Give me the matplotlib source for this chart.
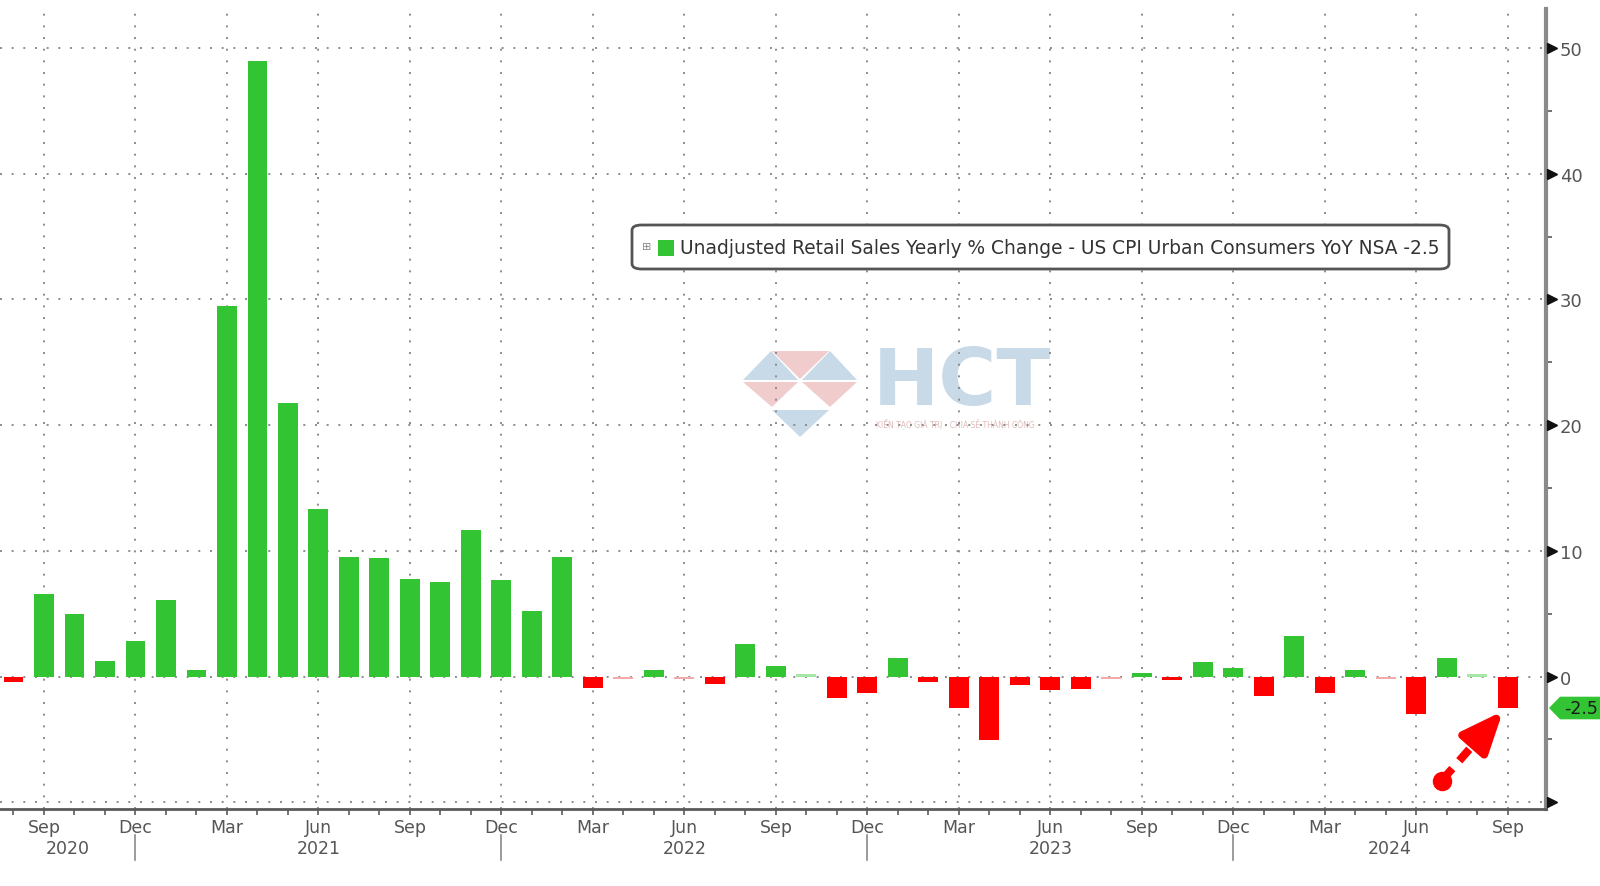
import matplotlib
matplotlib.use("Agg")
import matplotlib.pyplot as plt
import pandas as pd
from matplotlib.patches import FancyBboxPatch, Rectangle, Polygon
from matplotlib.transforms import blended_transform_factory

# ---------------- data ----------------
months = pd.period_range("2020-08", "2024-09", freq="M")
values = [-0.4, 6.6, 4.95, 1.2, 2.8,
          6.1, 0.5, 29.5, 49.0, 21.75, 13.3, 9.5, 9.4, 7.8, 7.5, 11.7, 7.7,
          5.2, 9.5, -0.9, -0.2, 0.5, -0.2, -0.6, 2.6, 0.85, 0.2, -1.7, -1.3,
          1.45, -0.45, -2.5, -5.05, -0.7, -1.05, -0.95, -0.2, 0.3, -0.3, 1.15, 0.65,
          -1.55, 3.2, -1.3, 0.5, -0.2, -3.0, 1.45, 0.2, -2.5]
quarter_months = [3, 6, 9, 12]
year_labels = ["2020", "2021", "2022", "2023", "2024"]
y_ticks = [0, 10, 20, 30, 40, 50]
legend_label = "Unadjusted Retail Sales Yearly % Change - US CPI Urban Consumers YoY NSA -2.5"
last_label = "-2.5"
last_value = -2.5

# ---------------- style ----------------
GREEN = "#33c433"
RED = "#ff0000"
LGREEN = "#a6e6a6"
LRED = "#f4a9a9"
GRID = "#8c8c8c"
TXT = "#555555"

plt.rcParams["font.family"] = ["DejaVu Sans"]

W, H = 1600, 887
fig = plt.figure(figsize=(W / 100, H / 100), dpi=100)
fig.patch.set_facecolor("white")

def fx(x):
    return x / W

def fy(y):
    return 1 - y / H

XMIN, XMAX = -0.44, 50.25
YMIN, YMAX = -10.55, 53.1
ax_bottom_px, ax_top_px = 810.2, 10.1
ax = fig.add_axes([0, fy(ax_bottom_px), 1546 / W, (ax_bottom_px - ax_top_px) / H])
ax.set_xlim(XMIN, XMAX)
ax.set_ylim(YMIN, YMAX)
ax.set_facecolor("none")

x = list(range(len(values)))
colors = []
for v in values:
    if v >= 0:
        colors.append(LGREEN if abs(v) < 0.25 else GREEN)
    else:
        colors.append(LRED if abs(v) < 0.25 else RED)
ax.bar(x, values, width=0.65, color=colors, zorder=3)

# grid
q_idx = [i for i, m in enumerate(months) if m.month in quarter_months]
q_lab = [months[i].strftime("%b") for i in q_idx]
for i in q_idx:
    ax.axvline(i, color=GRID, lw=1.4, ls=(0, (1, 5)), zorder=1)
for yv in [-10] + y_ticks:
    ax.axhline(yv, color=GRID, lw=1.4, ls=(0, (1, 5)), zorder=1)

# spines
for s in ["top", "left"]:
    ax.spines[s].set_visible(False)
ax.spines["right"].set_color("#8a8a8a")
ax.spines["right"].set_linewidth(3)
ax.spines["bottom"].set_color("#5a5a5a")
ax.spines["bottom"].set_linewidth(2)

# x ticks
ax.set_xticks(q_idx)
ax.set_xticklabels(q_lab)
ax.set_xticks(x, minor=True)
ax.tick_params(axis="x", which="both", direction="out", length=4.5, width=1.2,
               color="#5a5a5a", labelsize=12.5, labelcolor=TXT, pad=1.5)

# year labels and separators
dec_idx = [i for i, m in enumerate(months) if m.month == 12]
bounds = [XMIN] + dec_idx + [XMAX]
trans_xb = blended_transform_factory(ax.transData, fig.transFigure)
for k, lab in enumerate(year_labels):
    cx = (bounds[k] + bounds[k + 1]) / 2
    ax.text(cx, fy(849), lab, transform=trans_xb, ha="center", va="center",
            fontsize=12.5, color=TXT)
for d in dec_idx:
    ax.plot([d, d], [fy(836), fy(861)], transform=trans_xb, color="#8a8a8a",
            lw=1.2, clip_on=False)

# y ticks on right
ax.yaxis.tick_right()
ax.set_yticks(y_ticks)
ax.set_yticklabels([str(t) for t in y_ticks])
ax.set_yticks([-5, 5, 15, 25, 35, 45], minor=True)
ax.tick_params(axis="y", which="major", length=0, pad=10, labelsize=13, labelcolor=TXT)
ax.tick_params(axis="y", which="minor", length=4, width=1.2, color="#5a5a5a", direction="out")
ty = ax.get_yaxis_transform()
ax.plot([1.0036] * (len(y_ticks) + 1), y_ticks + [-10], transform=ty, ls="none",
        marker=">", ms=7, color="#111111", clip_on=False, zorder=5)

# last value tag
trans_fy = blended_transform_factory(fig.transFigure, ax.transData)
hh = 0.9
tag = Polygon([(fx(1549), last_value), (fx(1560), last_value + hh), (1.0, last_value + hh),
               (1.0, last_value - hh), (fx(1560), last_value - hh)],
              closed=True, transform=trans_fy, facecolor=GREEN, edgecolor="none",
              clip_on=False)
ax.add_patch(tag)
ax.text(fx(1581), last_value, last_label, transform=trans_fy, ha="center", va="center",
        fontsize=12.5, color="#1a1a1a", clip_on=False)

# red dashed arrow pointing at the latest bar
a_start = (46.83, -8.28)
a_tip = (48.84, -2.74)
def along(t):
    return (a_start[0] + t * (a_tip[0] - a_start[0]), a_start[1] + t * (a_tip[1] - a_start[1]))
ax.annotate("", xy=a_tip, xytext=along(0.52),
            arrowprops=dict(arrowstyle="-|>,head_width=1.05,head_length=2.5",
                            lw=5.8, color=RED, shrinkA=0, shrinkB=0),
            zorder=6)
seg_a, seg_b = along(0.0), along(0.45)
ax.plot([seg_a[0], seg_b[0]], [seg_a[1], seg_b[1]], color=RED, lw=5.8,
        ls=(0, (2.0, 1.3)), solid_capstyle="butt", zorder=6)
ax.plot([a_start[0]], [a_start[1]], "o", ms=13, color=RED, zorder=6)

# legend box (manual)
box = FancyBboxPatch((fx(632), fy(270)), fx(1449) - fx(632), fy(226) - fy(270),
                     boxstyle="round,pad=0,rounding_size=0.006", transform=fig.transFigure,
                     facecolor="white", edgecolor="#555555", lw=2, zorder=7)
ax.add_patch(box)
ax.text(fx(647), fy(247), "\u229e", transform=fig.transFigure, ha="center", va="center",
        fontsize=8, color="#888888", zorder=8)
ax.add_patch(Rectangle((fx(658), fy(257)), fx(16), 16 / H, transform=fig.transFigure,
                       facecolor=GREEN, edgecolor="none", zorder=8))
ax.text(fx(680), fy(248), legend_label, transform=fig.transFigure, ha="left", va="center",
        fontsize=13.4, color="#333333", zorder=8)

# watermark
blue = "#c8d9e8"
pink = "#f1cccc"
def P(pts, c):
    ax.add_patch(Polygon([(fx(a), fy(b)) for a, b in pts], closed=True,
                         transform=fig.transFigure, facecolor=c, edgecolor="none",
                         zorder=0.4))
P([(743, 381), (771, 352), (798, 381)], blue)
P([(772, 352), (829, 352), (800, 380)], pink)
P([(830, 352), (857, 381), (802, 381)], blue)
P([(743, 383), (798, 383), (772, 408)], pink)
P([(802, 383), (857, 383), (830, 408)], pink)
P([(772, 411), (829, 411), (800, 438)], blue)
ax.text(fx(962), fy(383), "HCT", transform=fig.transFigure, ha="center", va="center",
        fontsize=57, fontweight="bold", color=blue, zorder=0.4)
ax.text(fx(955), fy(424), "KIẾN TẠO GIÁ TRỊ - CHIA SẺ THÀNH CÔNG", transform=fig.transFigure,
        ha="center", va="center", fontsize=5.5, color="#e0b8b8", zorder=0.4)

fig.savefig("out.png", dpi=100)
